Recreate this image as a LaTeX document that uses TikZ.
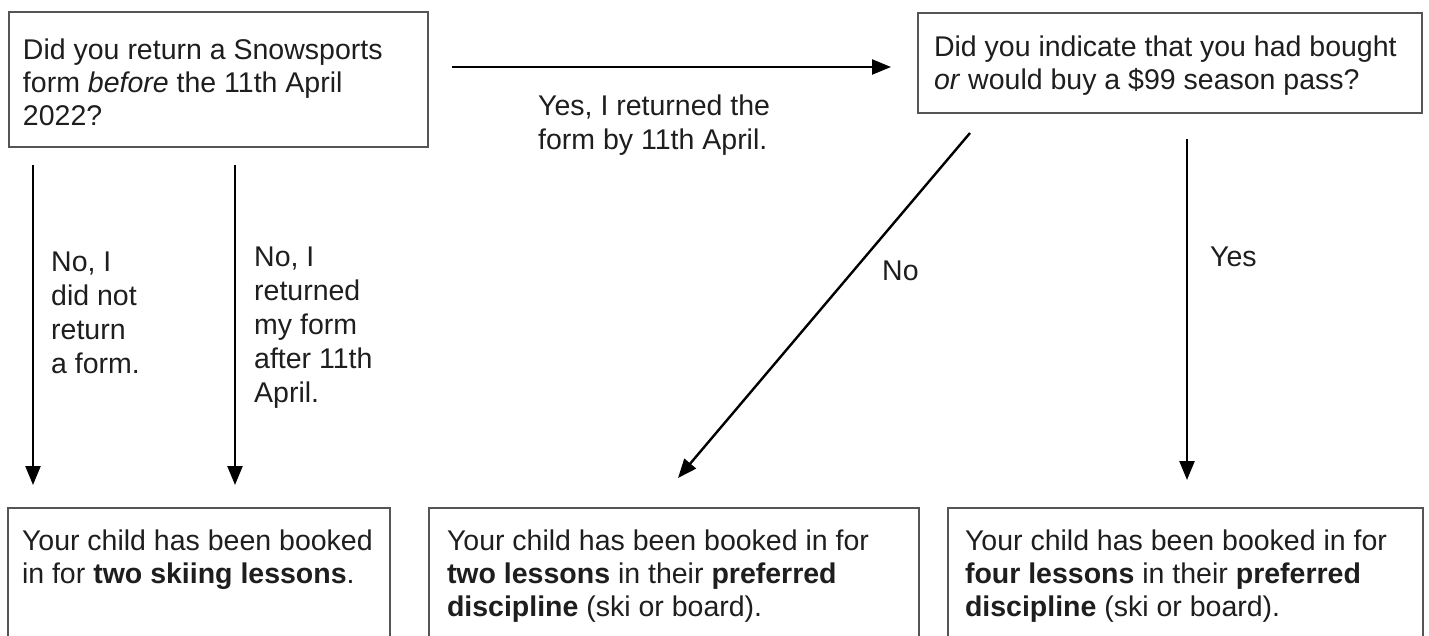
\documentclass[tikz,border=0pt]{standalone}
\usepackage{fontspec}
\setmainfont{Liberation Sans}
\usetikzlibrary{arrows.meta}
\definecolor{boxline}{RGB}{85,85,85}
\definecolor{ink}{RGB}{30,30,30}
% name, x, y, text width, height, side pad, first baseline, text
\newcommand{\infobox}[8]{\node[infobox, inner xsep=#6pt] (#1) at (#2,#3) {\parbox[t][#5pt][t]{#4pt}{\raggedright\rule{0pt}{#7pt}#8}};}
% name, x, y, text
\newcommand{\lbl}[4]{\node[lbl] (#1) at (#2,#3) {\parbox[t]{300pt}{\raggedright #4}};}
\tikzset{
  infobox/.style={draw=boxline, line width=1.4pt, anchor=north west, inner ysep=0pt, outer sep=0pt, text=ink, font=\fontsize{28.5pt}{33pt}\selectfont},
  lbl/.style={anchor=base west, inner sep=0pt, text=ink, font=\fontsize{28.5pt}{34pt}\selectfont},
  arr/.style={line width=2.4pt, -{Triangle[length=19pt,width=15pt]}}
}
\begin{document}
\begin{tikzpicture}[x=1pt,y=-1pt]
        \useasboundingbox (0,0) rectangle (1429,636);
        \fill[white] (0,0) rectangle (1429,636);

        % questions
        \infobox{formq}{9}{12}{391}{135}{14}{48}{Did you return a Snowsports\\ form \textit{before} the 11th April\\ 2022?}
        \infobox{passq}{918}{13}{472}{100}{16}{44}{Did you indicate that you had bought\\ \textit{or} would buy a \$99 season pass?}

        % outcomes
        \infobox{twoski}{8}{508}{354}{160}{14}{42}{Your child has been booked\\ in for \textbf{two skiing lessons}.}
        \infobox{twopref}{429}{508}{454}{160}{18}{42}{Your child has been booked in for\\ \textbf{two lessons} in their \textbf{preferred}\\ \textbf{discipline} (ski or board).}
        \infobox{fourpref}{948}{508}{441}{160}{17}{42}{Your child has been booked in for\\ \textbf{four lessons} in their \textbf{preferred}\\ \textbf{discipline} (ski or board).}

        % arrow ends
        \coordinate (yesS) at (452,67);
        \coordinate (yesE) at (891,67);
        \coordinate (noneS) at (33,165);
        \coordinate (noneE) at (33,485);
        \coordinate (lateS) at (235,165);
        \coordinate (lateE) at (235,485);
        \coordinate (nopassS) at (970,133);
        \coordinate (nopassE) at (678,478);
        \coordinate (passS) at (1187,139);
        \coordinate (passE) at (1187,480);

        \draw[arr] (yesS) -- (yesE);
        \draw[arr] (noneS) -- (noneE);
        \draw[arr] (lateS) -- (lateE);
        \draw[arr] (nopassS) -- (nopassE);
        \draw[arr] (passS) -- (passE);

        % answers
        \lbl{yeslbl}{538}{116}{Yes, I returned the\\ form by 11th April.}
        \lbl{nonelbl}{51}{272}{No, I\\ did not\\ return\\ a form.}
        \lbl{latelbl}{254}{267}{No, I\\ returned\\ my form\\ after 11th\\ April.}
        \lbl{nopasslbl}{882}{280}{No}
        \lbl{passlbl}{1210}{267}{Yes}
\end{tikzpicture}
\end{document}
